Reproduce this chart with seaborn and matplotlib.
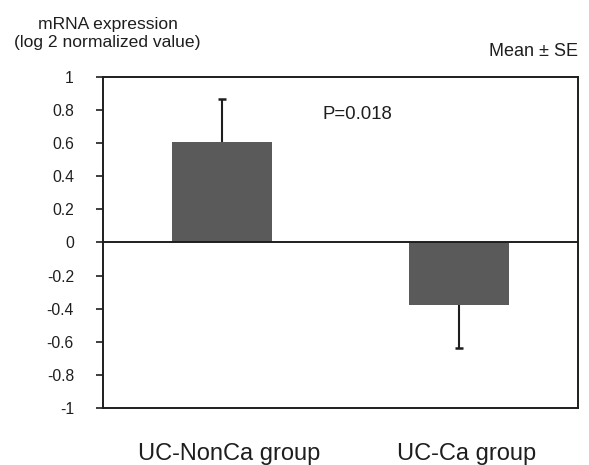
import matplotlib
matplotlib.use("Agg")
import matplotlib.pyplot as plt
import matplotlib.transforms as mtransforms
import seaborn as sns
import numpy as np

categories = ["UC-NonCa group", "UC-Ca group"]
means = [0.61, -0.38]
se = [0.26, 0.26]
yticks = [1, 0.8, 0.6, 0.4, 0.2, 0, -0.2, -0.4, -0.6, -0.8, -1]
ytick_labels = ["1", "0.8", "0.6", "0.4", "0.2", "0", "-0.2", "-0.4", "-0.6", "-0.8", "-1"]

sns.set_style("white")
plt.rcParams['font.family'] = ['Liberation Sans', 'DejaVu Sans']

ink = "#1e1e1e"
fig = plt.figure(figsize=(5.89, 4.65), dpi=100)
ax = fig.add_axes([0.175, 0.1226, 0.8064, 0.7118])

sns.barplot(x=categories, y=means, color="#5a5a5a", width=0.42,
            errorbar=None, ax=ax, linewidth=0, saturation=1)

# one-sided error bars (away from zero), cap only at the outer end
xpos = np.arange(len(categories))
lower = [0 if m >= 0 else s for m, s in zip(means, se)]
upper = [s if m >= 0 else 0 for m, s in zip(means, se)]
ax.errorbar(xpos, means, yerr=[lower, upper], fmt="none",
            ecolor=ink, elinewidth=1.5, capsize=0)
ends = [m + s if m >= 0 else m - s for m, s in zip(means, se)]
ax.plot(xpos, ends, ls="none", marker="_", markersize=6, markeredgewidth=1.8, color=ink)

ax.axhline(0, color=ink, lw=1.4)
ax.set_xlim(-0.5, 1.5)
ax.set_ylim(-1, 1)
ax.set_yticks(yticks)
ax.set_yticklabels(ytick_labels, fontsize=11.3)
ax.tick_params(axis='y', direction='out', length=5, width=1.2, left=True, pad=16,
               color=ink, labelcolor=ink)
ax.tick_params(axis='x', length=0, pad=25, labelsize=17, labelcolor=ink)
offset = mtransforms.ScaledTranslation(7 / 100, 0, fig.dpi_scale_trans)
for lab in ax.get_xticklabels():
    lab.set_transform(lab.get_transform() + offset)
for sp in ax.spines.values():
    sp.set_visible(True)
    sp.set_color(ink)
    sp.set_linewidth(1.4)
ax.set_ylabel("")
ax.set_xlabel("")

ax.text(0.57, 0.776, "P=0.018", fontsize=13.4, ha="center", va="center",
        color=ink, transform=ax.transData)
fig.text(0.9813, 0.89, "Mean ± SE", fontsize=13, ha="right", va="center", color=ink)
fig.text(0.183, 0.928, "mRNA expression\n(log 2 normalized value)", fontsize=12.6,
         ha="center", va="center", color=ink, linespacing=1.25)

fig.savefig("out.png", dpi=100)
